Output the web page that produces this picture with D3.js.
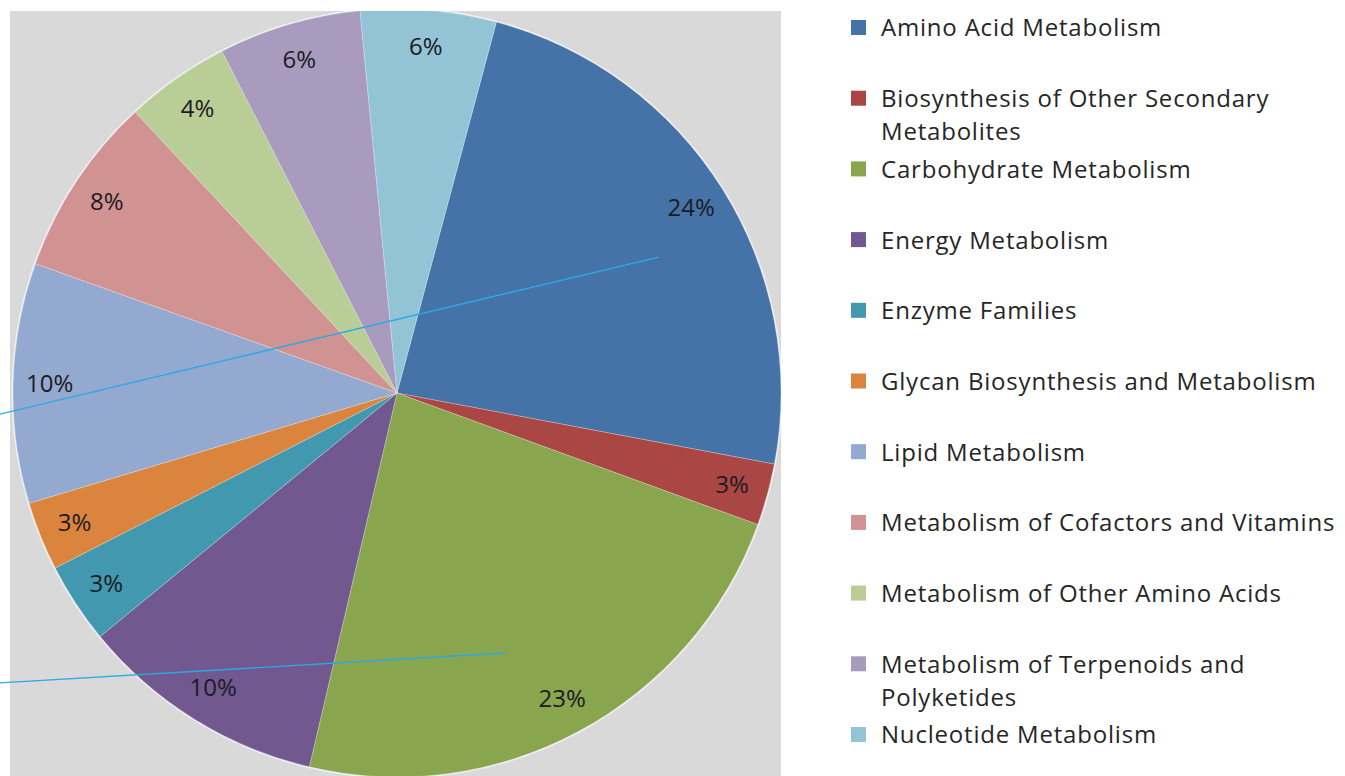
<!DOCTYPE html>
<html>
<head>
<meta charset="utf-8">
<script src="https://cdn.jsdelivr.net/npm/d3@7"></script>
<style>
	body { margin: 0; background: #fff; }
	text { font-family: "Open Sans", "Noto Sans", sans-serif; }
</style>
</head>
<body>
<div id="chart"></div>
<script>
// pathway categories (legend order = slice order, clockwise)
const categories = [
	'Amino Acid Metabolism',
	'Biosynthesis of Other Secondary Metabolites',
	'Carbohydrate Metabolism',
	'Energy Metabolism',
	'Enzyme Families',
	'Glycan Biosynthesis and Metabolism',
	'Lipid Metabolism',
	'Metabolism of Cofactors and Vitamins',
	'Metabolism of Other Amino Acids',
	'Metabolism of Terpenoids and Polyketides',
	'Nucleotide Metabolism'
];
// share of genes, percent
const shares = [23.8, 2.6, 23.1, 10.4, 3.4, 2.9, 10.1, 7.6, 4.4, 6.0, 5.7];
// legend text split where the original wraps
const legendLines = [
	['Amino Acid Metabolism'],
	['Biosynthesis of Other Secondary', 'Metabolites'],
	['Carbohydrate Metabolism'],
	['Energy Metabolism'],
	['Enzyme Families'],
	['Glycan Biosynthesis and Metabolism'],
	['Lipid Metabolism'],
	['Metabolism of Cofactors and Vitamins'],
	['Metabolism of Other Amino Acids'],
	['Metabolism of Terpenoids and', 'Polyketides'],
	['Nucleotide Metabolism']
];
const palette = ['#4572A7', '#AA4643', '#89A54E', '#71588F', '#4198AF', '#DB843D',
	'#93A9CF', '#D19392', '#B9CD96', '#A99BBD', '#92C4D6'];

const width = 1345;
const height = 776;
const plot = {left: 10, top: 11, right: 781, bottom: 776};
const cx = 397, cy = 393, radius = 384;
const firstSliceAngle = 15; // degrees, as in the Excel option

const svg = d3.select('#chart').append('svg')
	.attr('width', width)
	.attr('height', height);

svg.append('defs').append('clipPath').attr('id', 'plotclip')
	.append('rect')
	.attr('x', plot.left).attr('y', plot.top)
	.attr('width', plot.right - plot.left)
	.attr('height', plot.bottom - plot.top);

svg.append('rect')
	.attr('x', plot.left).attr('y', plot.top)
	.attr('width', plot.right - plot.left)
	.attr('height', plot.bottom - plot.top)
	.attr('fill', '#d9d9d9');

const color = d3.scaleOrdinal().domain(categories).range(palette);

const start = firstSliceAngle * Math.PI / 180;
const pie = d3.pie().sort(null).value(d => d.v)
	.startAngle(start).endAngle(start + 2 * Math.PI);
const arcs = pie(categories.map((c, i) => ({c: c, v: shares[i]})));

const arc = d3.arc().innerRadius(0).outerRadius(radius);
const labelArc = d3.arc().innerRadius(radius * 0.905).outerRadius(radius * 0.905);

const g = svg.append('g')
	.attr('clip-path', 'url(#plotclip)')
	.append('g')
	.attr('transform', `translate(${cx},${cy})`);

g.append('circle').attr('r', radius + 1.5).attr('fill', '#eef0f4');

g.selectAll('path.slice')
	.data(arcs)
	.enter().append('path')
	.attr('class', 'slice')
	.attr('d', arc)
	.attr('fill', d => color(d.data.c))
	.attr('stroke', '#ffffff')
	.attr('stroke-opacity', 0.3)
	.attr('stroke-width', 0.8);

const total = d3.sum(shares);
g.selectAll('text.pct')
	.data(arcs)
	.enter().append('text')
	.attr('class', 'pct')
	.attr('transform', d => `translate(${labelArc.centroid(d)})`)
	.attr('text-anchor', 'middle')
	.attr('dy', '0.35em')
	.attr('font-size', '24px')
	.attr('fill', '#1b1b24')
	.text(d => Math.round(d.data.v / total * 100) + '%');

// the two thin blue strokes drawn over the figure (annotation, in pie units)
const strokes = [
	[[-1.034, 0.055], [0.682, -0.354]],
	[[-1.034, 0.755], [0.281, 0.677]]
];
const line = d3.line().x(p => cx + p[0] * radius).y(p => cy + p[1] * radius);
svg.append('g').selectAll('path')
	.data(strokes)
	.enter().append('path')
	.attr('d', line)
	.attr('fill', 'none')
	.attr('stroke', '#2aaae6')
	.attr('stroke-width', 1.4);

// legend
const ly = d3.scalePoint().domain(categories).range([28, 735]);
const legend = svg.append('g').attr('transform', 'translate(851,0)');
const item = legend.selectAll('g')
	.data(categories)
	.enter().append('g')
	.attr('transform', d => `translate(0,${ly(d)})`);
item.append('rect')
	.attr('x', 0).attr('y', -8)
	.attr('width', 15).attr('height', 15)
	.attr('fill', d => color(d));
item.append('text')
	.attr('font-size', '24px')
	.attr('letter-spacing', '0.8px')
	.attr('fill', '#262626')
	.selectAll('tspan')
	.data((d, i) => legendLines[i])
	.enter().append('tspan')
	.attr('x', 30)
	.attr('dy', (d, i) => i === 0 ? '0.35em' : '33px')
	.text(d => d);
</script>
</body>
</html>
